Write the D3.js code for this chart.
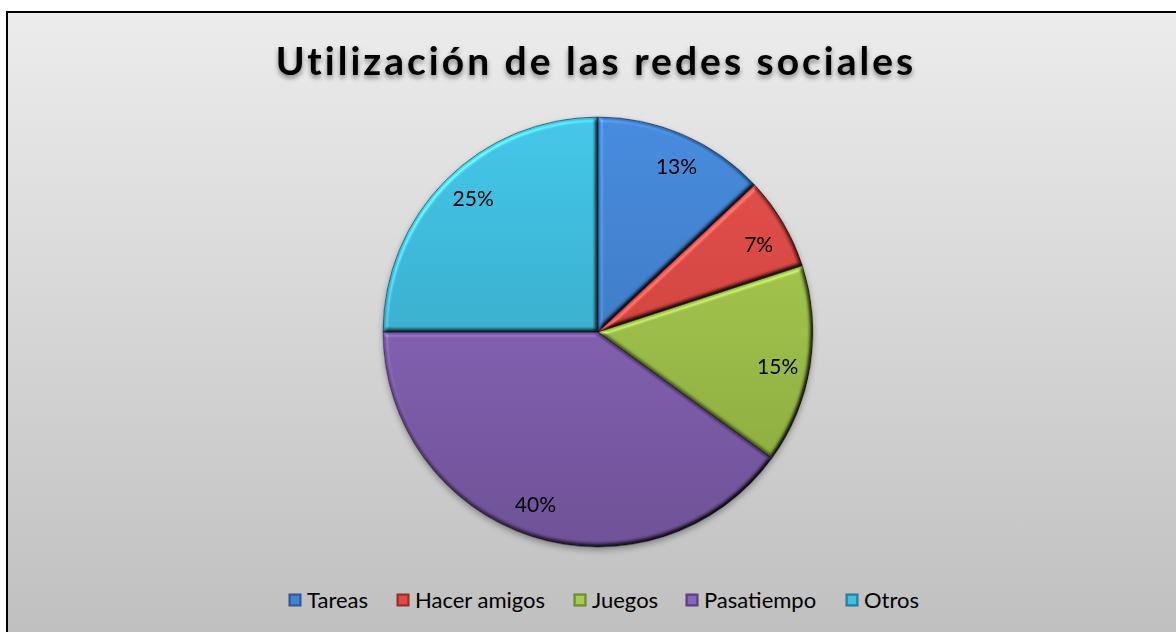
<!DOCTYPE html>
<html>
<head>
<meta charset="utf-8">
<script src="https://cdn.jsdelivr.net/npm/d3@7"></script>
<style>
  body { margin: 0; background: #fff; }
  svg { display: block; }
</style>
</head>
<body>
<svg id="chart" width="1176" height="632"></svg>
<script>
// chart data
const categories = ["Tareas", "Hacer amigos", "Juegos", "Pasatiempo", "Otros"];
const values = [13, 7, 15, 40, 25];
const labels = ["13%", "7%", "15%", "40%", "25%"];
const title = "Utilización de las redes sociales";

// slice colours: light (top of pie) to dark (bottom of pie)
const colorsLight = ["#3f84d6", "#e04a44", "#a8cc4e", "#8c64c0", "#3dc0e2"];
const colorsDark  = ["#3466a8", "#b2332f", "#7e9d34", "#664a8e", "#2a90ac"];

const svg = d3.select("#chart");
const W = 1176, H = 632;
const cx = 598, cy = 332, R = 215;

const defs = svg.append("defs");

// background gradient of the chart area
const bg = defs.append("linearGradient").attr("id", "bg")
    .attr("x1", 0).attr("y1", 0).attr("x2", 0).attr("y2", 1);
bg.append("stop").attr("offset", "0%").attr("stop-color", "#ececec");
bg.append("stop").attr("offset", "100%").attr("stop-color", "#bfbfbf");

// soft shadow for title and pie
const shadow = defs.append("filter").attr("id", "shadow")
    .attr("x", "-10%").attr("y", "-10%").attr("width", "120%").attr("height", "130%");
shadow.append("feDropShadow").attr("dx", 0).attr("dy", 3).attr("stdDeviation", 2.5)
    .attr("flood-color", "#000").attr("flood-opacity", 0.45);

const pieShadow = defs.append("filter").attr("id", "pieShadow")
    .attr("x", "-10%").attr("y", "-10%").attr("width", "120%").attr("height", "125%");
pieShadow.append("feDropShadow").attr("dx", 0).attr("dy", 3).attr("stdDeviation", 3)
    .attr("flood-color", "#000").attr("flood-opacity", 0.35);

// bevel: lit edges from the top-left, shaded edges bottom-right
const bevel = defs.append("filter").attr("id", "bevel")
    .attr("color-interpolation-filters", "sRGB")
    .attr("x", "-5%").attr("y", "-5%").attr("width", "110%").attr("height", "110%");
bevel.append("feGaussianBlur").attr("in", "SourceAlpha").attr("stdDeviation", 2.2).attr("result", "blur");
bevel.append("feDiffuseLighting").attr("in", "blur").attr("surfaceScale", 4)
    .attr("diffuseConstant", 1).attr("lighting-color", "#fff").attr("result", "diff")
  .append("feDistantLight").attr("azimuth", 225).attr("elevation", 60);
bevel.append("feSpecularLighting").attr("in", "blur").attr("surfaceScale", 4)
    .attr("specularConstant", 0.5).attr("specularExponent", 18)
    .attr("lighting-color", "#fff").attr("result", "spec")
  .append("feDistantLight").attr("azimuth", 225).attr("elevation", 40);
bevel.append("feComposite").attr("in", "spec").attr("in2", "SourceAlpha")
    .attr("operator", "in").attr("result", "specIn");
bevel.append("feComposite").attr("in", "SourceGraphic").attr("in2", "diff")
    .attr("operator", "arithmetic").attr("k1", 1.155).attr("k2", 0).attr("k3", 0).attr("k4", 0)
    .attr("result", "lit");
bevel.append("feComposite").attr("in", "lit").attr("in2", "SourceAlpha")
    .attr("operator", "in").attr("result", "litIn");
bevel.append("feComposite").attr("in", "litIn").attr("in2", "specIn")
    .attr("operator", "arithmetic").attr("k2", 1).attr("k3", 0.35);

// one vertical gradient per slice, across the whole pie
categories.forEach((c, i) => {
    const g = defs.append("linearGradient").attr("id", "slice" + i)
        .attr("gradientUnits", "userSpaceOnUse")
        .attr("x1", 0).attr("y1", -R).attr("x2", 0).attr("y2", R);
    g.append("stop").attr("offset", "0%").attr("stop-color", colorsLight[i]);
    g.append("stop").attr("offset", "100%").attr("stop-color", colorsDark[i]);
});

// frame
svg.append("rect")
    .attr("x", 7).attr("y", 12)
    .attr("width", W).attr("height", H)
    .attr("fill", "url(#bg)")
    .attr("stroke", "#000").attr("stroke-width", 2);

// title
svg.append("text")
    .attr("x", 596).attr("y", 75)
    .attr("text-anchor", "middle")
    .attr("font-family", "Lato, 'Open Sans', sans-serif")
    .attr("font-weight", "bold")
    .attr("font-size", 39)
    .attr("letter-spacing", 3)
    .attr("fill", "#000")
    .attr("filter", "url(#shadow)")
    .text(title);

// pie
const pie = d3.pie().sort(null).value(d => d);
const arcs = pie(values);
const arc = d3.arc().innerRadius(0).outerRadius(R);
// labels sit a little clockwise of the slice middle, like the original
const labelArc = d3.arc().innerRadius(183).outerRadius(183);
const labelShift = 0.035;

const gPie = svg.append("g").attr("transform", `translate(${cx},${cy})`);

const slices = gPie.append("g").attr("filter", "url(#pieShadow)");
slices.selectAll("path")
  .data(arcs)
  .join("path")
    .attr("d", arc)
    .attr("fill", (d, i) => `url(#slice${i})`)
    .attr("filter", "url(#bevel)");

// thin dark outline of every slice
gPie.append("g").selectAll("path")
  .data(arcs)
  .join("path")
    .attr("d", arc)
    .attr("fill", "none")
    .attr("stroke", "#000")
    .attr("stroke-opacity", 0.4)
    .attr("stroke-width", 1);

// data labels
gPie.selectAll("text")
  .data(arcs)
  .join("text")
    .attr("transform", d => {
        const s = { startAngle: d.startAngle + labelShift, endAngle: d.endAngle + labelShift };
        return `translate(${labelArc.centroid(s)})`;
    })
    .attr("text-anchor", "middle")
    .attr("dy", "0.36em")
    .attr("font-family", "Lato, 'Open Sans', sans-serif")
    .attr("font-size", 21)
    .attr("fill", "#000")
    .text((d, i) => labels[i]);

// legend
const legendX = [289, 397, 574, 686, 846];
const legend = svg.append("g").attr("transform", "translate(0,600)");
const items = legend.selectAll("g")
  .data(categories)
  .join("g")
    .attr("transform", (d, i) => `translate(${legendX[i]},0)`);
items.append("rect")
    .attr("x", 0).attr("y", -6)
    .attr("width", 12).attr("height", 12)
    .attr("fill", (d, i) => colorsDark[i])
    .attr("stroke", (d, i) => d3.color(colorsDark[i]).darker(0.6))
    .attr("stroke-width", 1);
items.append("rect")
    .attr("x", 2).attr("y", -4)
    .attr("width", 8).attr("height", 8)
    .attr("fill", (d, i) => colorsLight[i]);
items.append("text")
    .attr("x", 18).attr("y", 8)
    .attr("font-family", "Lato, 'Open Sans', sans-serif")
    .attr("font-size", 22)
    .attr("fill", "#000")
    .text(d => d);
</script>
</body>
</html>
